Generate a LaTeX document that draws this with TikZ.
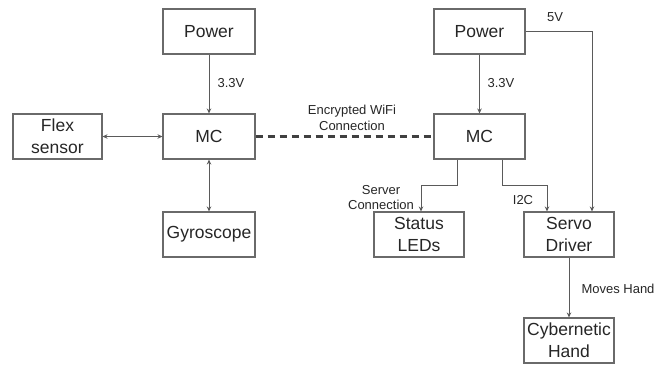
\documentclass[tikz,border=0pt]{standalone}
\usepackage{fontspec}
\setmainfont{Liberation Sans}
\usetikzlibrary{arrows.meta,calc}
\definecolor{boxline}{HTML}{6A6A6A}
\definecolor{wire}{HTML}{5A5A5A}
\definecolor{txt}{HTML}{262626}
\tikzset{
  blk/.style={draw=boxline, line width=1.1pt, minimum width=92pt, minimum height=45pt, inner sep=0pt, align=center, text=txt, font=\fontsize{17.5}{22}\selectfont},
  arr/.style={draw=wire, line width=0.9pt, -{Stealth[length=5pt,width=4.5pt]}},
  darr/.style={draw=wire, line width=0.9pt, {Stealth[length=5pt,width=4.5pt]}-{Stealth[length=5pt,width=4.5pt]}},
  lbl/.style={text=txt, font=\fontsize{13}{15.5}\selectfont, align=center, inner sep=0pt}
}
\begin{document}
\begin{tikzpicture}[x=1pt,y=-1pt]
\useasboundingbox (0,0) rectangle (670,365);
% left side
\node[blk] (lp) at (209,31.5) {Power};
\node[blk] (lmc) at (209,136.5) {MC};
\node[blk, minimum width=89pt] (flex) at (57.5,136.5) {Flex\\sensor};
\node[blk] (gyro) at (209,234.5) {Gyroscope};
% right side
\node[blk, minimum width=91pt] (rp) at (479.5,31.5) {Power};
\node[blk, minimum width=91pt] (rmc) at (479.5,136.5) {MC};
\node[blk, minimum width=90pt] (leds) at (419,234.5) {Status\\LEDs};
\node[blk, minimum width=90pt] (servo) at (569,234.5) {Servo\\Driver};
\node[blk, minimum width=90pt] (hand) at (569,340.5) {Cybernetic\\Hand};
% connectors
\draw[arr] (lp) -- (lmc);
\draw[darr] (flex) -- (lmc);
\draw[darr] (lmc) -- (gyro);
\draw[draw=black!75, line width=2.6pt, dash pattern=on 7pt off 5pt] (lmc.east) -- (rmc.west);
\draw[arr] (rp) -- (rmc);
\draw[arr] (rp.east) -| ([xshift=23pt]servo.north);
\draw[arr] ([xshift=-22.5pt]rmc.south) -- ++(0,26) -| ([xshift=2pt]leds.north);
\draw[arr] ([xshift=22.5pt]rmc.south) -- ++(0,26) -| ([xshift=-22pt]servo.north);
\draw[arr] (servo) -- (hand);
% labels
\node[lbl] (l33a) at (231,83) {3.3V};
\node[lbl] (l33b) at (501,83) {3.3V};
\node[lbl] (l5v) at (555,17) {5V};
\node[lbl] (lwifi) at (352,118) {Encrypted WiFi\\Connection};
\node[lbl] (lsrv) at (381,197.5) {Server\\Connection};
\node[lbl] (li2c) at (523,200) {I2C};
\node[lbl] (lmove) at (618,289) {Moves Hand};
\end{tikzpicture}
\end{document}
